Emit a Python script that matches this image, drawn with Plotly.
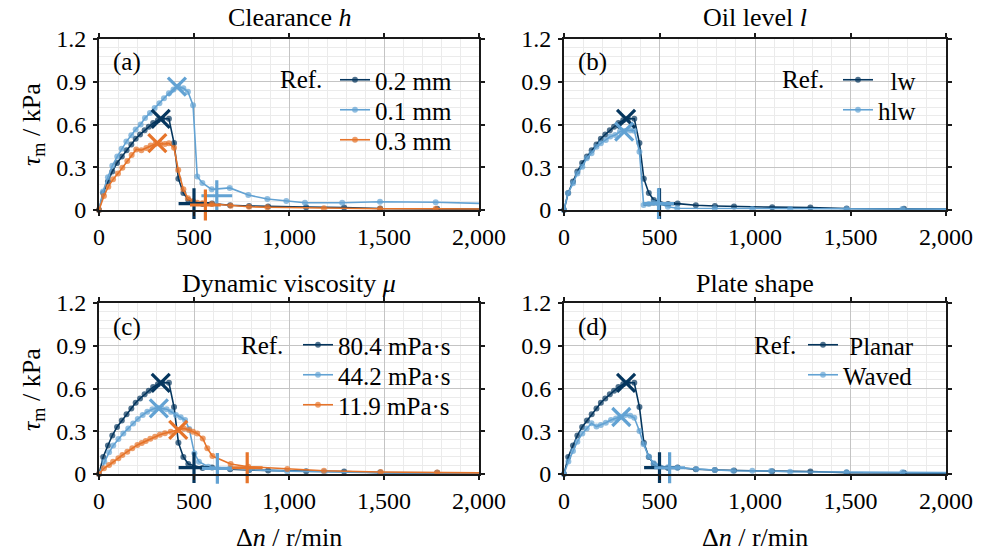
import plotly.graph_objects as go

FONT = "Liberation Serif, Times New Roman, DejaVu Serif, serif"
DARK = "#05365e"
LIGHT = "#62a2d3"
ORANGE = "#e6742a"

# ---------------- data ----------------
# Reference (0.2 mm / lw / 80.4 mPa·s / Planar)
ref_x = [0, 22, 47, 70, 95, 120, 145, 170, 193, 216, 240, 262, 285, 310, 335, 368, 395, 418, 444, 470,
         545, 595, 690, 790, 890, 1090, 1290, 1480, 1780, 2200]
ref_y = [0, 0.12, 0.20, 0.27, 0.33, 0.375, 0.42, 0.46, 0.50, 0.53, 0.56, 0.585, 0.61, 0.63, 0.64, 0.64,
         0.47, 0.22, 0.12, 0.07, 0.042, 0.045, 0.033, 0.028, 0.024, 0.02, 0.018, 0.01, 0.008, 0.005]
ref_max = (325, 0.64)
ref_crit = (500, 0.045)

# (a) clearance 0.1 mm
h01_x = [0, 21, 47, 70, 96, 119, 144, 170, 193, 219, 242, 268, 293, 318, 342, 368, 392, 417, 444, 468,
         495, 517, 544, 593, 688, 786, 886, 986, 1084, 1280, 1479, 1772, 2200]
h01_y = [0, 0.13, 0.23, 0.31, 0.375, 0.43, 0.48, 0.525, 0.565, 0.60, 0.645, 0.68, 0.715, 0.75, 0.785,
         0.82, 0.845, 0.865, 0.855, 0.83, 0.735, 0.235, 0.19, 0.145, 0.155, 0.105, 0.077, 0.063, 0.051,
         0.051, 0.058, 0.054, 0.04]
h01_max = (410, 0.865)
h01_crit = (620, 0.10)

# (a) clearance 0.3 mm
h03_x = [0, 26, 49, 74, 100, 123, 149, 172, 196, 223, 249, 272, 298, 322, 347, 368, 395, 417, 444, 468,
         495, 517, 544, 593, 693, 789, 886, 1184, 1479, 1772, 2200]
h03_y = [0, 0.098, 0.164, 0.215, 0.257, 0.297, 0.344, 0.386, 0.425, 0.42, 0.435, 0.452, 0.465, 0.465,
         0.463, 0.468, 0.437, 0.28, 0.145, 0.082, 0.063, 0.051, 0.047, 0.042, 0.03, 0.023, 0.019, 0.012,
         0.009, 0.009, 0.006]
h03_max = (307, 0.47)
h03_crit = (560, 0.035)

# (b) oil level hlw
hlw_x = [0, 21, 47, 70, 96, 119, 144, 170, 193, 219, 242, 268, 293, 319, 347, 368, 395, 417, 444, 468,
         495, 544, 593, 789, 986, 1184, 1479, 1772, 2200]
hlw_y = [0, 0.117, 0.187, 0.257, 0.304, 0.363, 0.398, 0.444, 0.468, 0.491, 0.515, 0.526, 0.55, 0.555,
         0.56, 0.557, 0.409, 0.035, 0.042, 0.051, 0.047, 0.023, 0.012, 0.012, 0.007, 0.007, 0.007,
         0.007, 0.005]
hlw_max = (315, 0.55)
hlw_crit = (495, 0.045)

# (c) viscosity 44.2 mPa·s
v44_x = [0, 28, 53, 75, 102, 128, 154, 180, 204, 230, 254, 281, 307, 330, 356, 379, 405, 430, 453, 475,
         502, 526, 575, 690, 790, 990, 1185, 1480, 1780, 2200]
v44_y = [0, 0.086, 0.152, 0.20, 0.246, 0.285, 0.32, 0.355, 0.386, 0.414, 0.437, 0.455, 0.465, 0.46,
         0.455, 0.437, 0.414, 0.398, 0.379, 0.316, 0.145, 0.086, 0.051, 0.04, 0.03, 0.02, 0.015, 0.01,
         0.008, 0.005]
v44_max = (315, 0.46)
v44_crit = (623, 0.04)

# (c) viscosity 11.9 mPa·s
v12_x = [0, 26, 53, 74, 102, 123, 149, 175, 202, 225, 246, 270, 295, 320, 347, 377, 417, 447, 474, 495,
         517, 546, 570, 597, 693, 786, 991, 1184, 1483, 1780, 2200]
v12_y = [0, 0.04, 0.063, 0.086, 0.11, 0.133, 0.157, 0.18, 0.203, 0.217, 0.231, 0.247, 0.262, 0.275,
         0.286, 0.297, 0.309, 0.32, 0.309, 0.297, 0.285, 0.25, 0.18, 0.126, 0.07, 0.051, 0.035, 0.023,
         0.014, 0.01, 0.006]
v12_max = (417, 0.31)
v12_crit = (780, 0.044)

# (d) plate shape waved
wav_x = [0, 23, 47, 70, 96, 119, 144, 170, 193, 219, 246, 272, 295, 321, 347, 368, 395, 417, 444, 470,
         495, 544, 593, 693, 789, 886, 986, 1084, 1184, 1479, 1772, 2200]
wav_y = [0, 0.087, 0.161, 0.227, 0.285, 0.32, 0.356, 0.333, 0.344, 0.36, 0.379, 0.39, 0.402, 0.414,
         0.409, 0.395, 0.302, 0.208, 0.122, 0.075, 0.058, 0.047, 0.044, 0.035, 0.028, 0.023, 0.023,
         0.021, 0.016, 0.012, 0.012, 0.008]
wav_max = (300, 0.40)
wav_crit = (553, 0.044)

panel_titles = ["Clearance <i>h</i>", "Oil level <i>l</i>", "Dynamic viscosity <i>μ</i>", "Plate shape"]
panel_tags = ["(a)", "(b)", "(c)", "(d)"]
x_ticks = [0, 500, 1000, 1500, 2000]
x_tick_text = ["0", "500", "1,000", "1,500", "2,000"]
y_ticks = [0, 0.3, 0.6, 0.9, 1.2]
y_tick_text = ["0", "0.3", "0.6", "0.9", "1.2"]

panels = [
    [("0.2 mm", DARK, ref_x, ref_y, ref_max, ref_crit),
     ("0.1 mm", LIGHT, h01_x, h01_y, h01_max, h01_crit),
     ("0.3 mm", ORANGE, h03_x, h03_y, h03_max, h03_crit)],
    [("\u00a0\u00a0lw", DARK, ref_x, ref_y, ref_max, ref_crit),
     ("hlw", LIGHT, hlw_x, hlw_y, hlw_max, hlw_crit)],
    [("80.4 mPa·s", DARK, ref_x, ref_y, ref_max, ref_crit),
     ("44.2 mPa·s", LIGHT, v44_x, v44_y, v44_max, v44_crit),
     ("11.9 mPa·s", ORANGE, v12_x, v12_y, v12_max, v12_crit)],
    [("\u00a0Planar", DARK, ref_x, ref_y, ref_max, ref_crit),
     ("Waved", LIGHT, wav_x, wav_y, wav_max, wav_crit)],
]

# ---------------- layout geometry (pixels) ----------------
W, H = 984, 551
xpx = [(99, 479), (564, 946)]
ypx = [(39, 210), (303, 474)]
# legend block: left x of legend, first row centre y, row step
leg_blocks = [(335, 80), (838, 80), (298, 345), (803, 345)]
ROW = 30

def px_x(p):
    return p / W

def px_y(p):
    return (H - p) / H

fig = go.Figure()
layout = dict(
    template="none",
    width=W, height=H, margin=dict(l=0, r=0, t=0, b=0, pad=0, autoexpand=False),
    paper_bgcolor="white", plot_bgcolor="white",
    font=dict(family=FONT, size=24, color="black"),
)

TS = 24
LS = 25
BIG = 26
leg_count = 0
for i in range(4):
    r, c = divmod(i, 2)
    n = i + 1
    xa = "xaxis" if n == 1 else f"xaxis{n}"
    ya = "yaxis" if n == 1 else f"yaxis{n}"
    xref = "x" if n == 1 else f"x{n}"
    yref = "y" if n == 1 else f"y{n}"
    common = dict(showline=True, linecolor="#1a1a1a", linewidth=2, mirror="ticks",
                  ticks="outside", ticklen=4, tickwidth=1.6, tickcolor="#1a1a1a",
                  showgrid=True, gridcolor="#c4c4c4", gridwidth=1, zeroline=False, automargin=False,
                  tickfont=dict(family=FONT, size=TS, color="black"), layer="above traces")
    layout[xa] = dict(common, domain=[px_x(xpx[c][0]), px_x(xpx[c][1])], range=[0, 2000],
                      tickvals=x_ticks, ticktext=x_tick_text, anchor=yref,
                      minor=dict(showgrid=True, gridcolor="#ebebeb", gridwidth=1, dtick=100, tick0=0, ticks=""))
    layout[ya] = dict(common, domain=[px_y(ypx[r][1]), px_y(ypx[r][0])], range=[0, 1.2],
                      tickvals=y_ticks, ticktext=y_tick_text, anchor=xref, ticklabelstandoff=2,
                      minor=dict(showgrid=True, gridcolor="#ebebeb", gridwidth=1, dtick=0.06, tick0=0, ticks=""))

    series = panels[i]
    lx, ly0 = leg_blocks[i]
    for k, (name, col, xs, ys, mx, cr) in enumerate(series):
        leg_count += 1
        leg = "legend" if leg_count == 1 else f"legend{leg_count}"
        layout[leg] = dict(x=px_x(lx), y=px_y(ly0 + k * ROW), xanchor="left", yanchor="middle",
                           bgcolor="rgba(0,0,0,0)", borderwidth=0,
                           font=dict(family=FONT, size=LS, color="black"), itemclick=False)
        sizes = [6 if x <= 2000 else 0 for x in xs]
        fig.add_trace(go.Scatter(x=xs, y=ys, mode="lines+markers", name=name,
                                 line=dict(color=col, width=1.6),
                                 marker=dict(color=col, size=sizes, line=dict(width=0)),
                                 xaxis=xref, yaxis=yref, legend=leg,
                                 cliponaxis=False))
    for k, (name, col, xs, ys, mx, cr) in enumerate(series):
        fig.add_trace(go.Scatter(x=[mx[0]], y=[mx[1]], mode="markers", showlegend=False,
                                 marker=dict(symbol="x-thin", size=18, color=col,
                                             line=dict(color=col, width=3.2)),
                                 xaxis=xref, yaxis=yref, cliponaxis=False, hoverinfo="skip"))
        fig.add_trace(go.Scatter(x=[cr[0]], y=[cr[1]], mode="markers", showlegend=False,
                                 marker=dict(symbol="cross-thin", size=22, color=col,
                                             line=dict(color=col, width=3.2)),
                                 xaxis=xref, yaxis=yref, cliponaxis=False, hoverinfo="skip"))

ann = []
centers = [(289, 18), (755, 18), (289, 283), (755, 283)]
for t, (cx, cy) in zip(panel_titles, centers):
    ann.append(dict(text=t, x=px_x(cx), y=px_y(cy), xref="paper", yref="paper",
                    xanchor="center", yanchor="middle", showarrow=False,
                    font=dict(family=FONT, size=BIG)))
tag_pos = [(111, 62), (576, 62), (111, 327), (576, 327)]
for t, (tx, ty) in zip(panel_tags, tag_pos):
    ann.append(dict(text=t, x=px_x(tx), y=px_y(ty), xref="paper", yref="paper",
                    xanchor="left", yanchor="middle", showarrow=False,
                    font=dict(family=FONT, size=LS)))
ref_pos = [(324, 80), (826, 80), (285, 345), (798, 345)]
for (rx, ry) in ref_pos:
    ann.append(dict(text="Ref.", x=px_x(rx), y=px_y(ry), xref="paper", yref="paper",
                    xanchor="right", yanchor="middle", showarrow=False,
                    font=dict(family=FONT, size=LS)))
for cy in [125, 390]:
    ann.append(dict(text="<i>τ</i><sub>m</sub> / kPa", x=px_x(33), y=px_y(cy), xref="paper", yref="paper",
                    xanchor="center", yanchor="middle", textangle=-90, showarrow=False,
                    font=dict(family=FONT, size=BIG)))
for cx in [289, 755]:
    ann.append(dict(text="Δ<i>n</i> / r/min", x=px_x(cx), y=px_y(537), xref="paper", yref="paper",
                    xanchor="center", yanchor="middle", showarrow=False,
                    font=dict(family=FONT, size=BIG)))
layout["annotations"] = ann
fig.update_layout(**layout)
fig.write_html("out.html")
